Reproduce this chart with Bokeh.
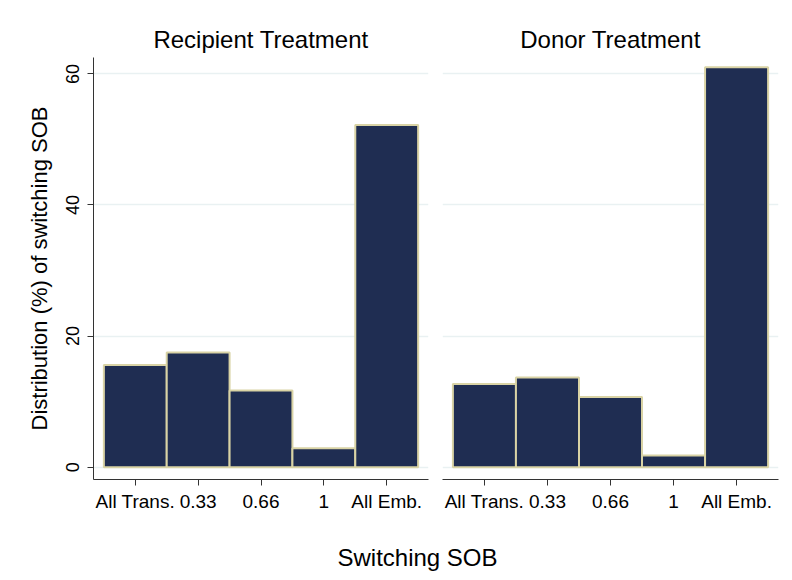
from bokeh.plotting import figure
from bokeh.models import FixedTicker, Range1d, Label
from bokeh.layouts import column, row
from bokeh.embed import file_html
from bokeh.resources import INLINE

categories = ["All Trans.", "0.33", "0.66", "1", "All Emb."]
positions = [0, 1, 2, 3, 4]
recipient = [15.6, 17.5, 11.7, 2.9, 52.2]
donor = [12.7, 13.7, 10.7, 1.8, 61.0]
y_ticks = [0, 20, 40, 60]
panel_titles = ["Recipient Treatment", "Donor Treatment"]
x_title = "Switching SOB"
y_title = "Distribution (%) of switching SOB"

FONT = "Liberation Sans"
FILL = "#1f2d52"
EDGE = "#d9d3a5"
GRID = "#e9f1f2"
AXIS = "#333333"
TEXT = "#000000"


def panel(title, values, left, frame_w, show_y):
    p = figure(width=left + frame_w + 6, height=528, output_backend="svg",
               toolbar_location=None,
               x_range=Range1d(-0.665, 4.665), y_range=Range1d(-1.88, 62.5),
               min_border_left=left, min_border_right=6,
               min_border_top=57, min_border_bottom=49)
    p.title.text = title
    p.title.text_font = FONT
    p.title.text_font_size = "24px"
    p.title.text_font_style = "normal"
    p.title.text_color = TEXT
    p.title.align = "center"
    p.title.standoff = 9
    p.outline_line_color = None
    p.background_fill_color = "white"

    p.vbar(x=positions, top=values, bottom=0, width=1.0,
           fill_color=FILL, line_color=EDGE, line_width=2)

    p.xgrid.visible = False
    p.ygrid.ticker = FixedTicker(ticks=y_ticks)
    p.ygrid.grid_line_color = GRID
    p.ygrid.grid_line_width = 1.5

    xa = p.xaxis[0]
    xa.ticker = FixedTicker(ticks=positions)
    xa.major_label_overrides = {pos: cat for pos, cat in zip(positions, categories)}
    xa.major_label_text_font = FONT
    xa.major_label_text_font_size = "19px"
    xa.major_label_text_color = TEXT
    xa.major_label_standoff = 5
    xa.major_tick_out = 6
    xa.major_tick_in = 0
    xa.minor_tick_line_color = None
    xa.axis_line_color = AXIS
    xa.major_tick_line_color = AXIS

    ya = p.yaxis[0]
    if show_y:
        ya.ticker = FixedTicker(ticks=y_ticks)
        ya.major_label_orientation = "parallel"
        ya.major_label_text_font = FONT
        ya.major_label_text_font_size = "18px"
        ya.major_label_text_color = TEXT
        ya.major_label_standoff = 8
        ya.major_tick_out = 6
        ya.major_tick_in = 0
        ya.minor_tick_line_color = None
        ya.axis_line_color = AXIS
        ya.major_tick_line_color = AXIS
        ya.axis_label = y_title
        ya.axis_label_text_font = FONT
        ya.axis_label_text_font_size = "22px"
        ya.axis_label_text_font_style = "normal"
        ya.axis_label_text_color = TEXT
        ya.axis_label_standoff = 12
    else:
        ya.visible = False
    return p


p1 = panel(panel_titles[0], recipient, 93, 335, True)
p2 = panel(panel_titles[1], donor, 8, 336, False)

p3 = figure(width=784, height=50, output_backend="svg", toolbar_location=None,
            x_range=Range1d(0, 1), y_range=Range1d(0, 1),
            min_border=0, x_axis_location=None, y_axis_location=None)
p3.outline_line_color = None
p3.xgrid.visible = False
p3.ygrid.visible = False
p3.add_layout(Label(x=417, y=21, x_units="screen", y_units="screen",
                    text=x_title, text_font=FONT, text_font_size="24px",
                    text_color=TEXT,
                    text_align="center", text_baseline="alphabetic"))

layout = column(row(p1, p2, spacing=0), p3, spacing=0)

with open("out.html", "w") as f:
    f.write(file_html(layout, INLINE))
